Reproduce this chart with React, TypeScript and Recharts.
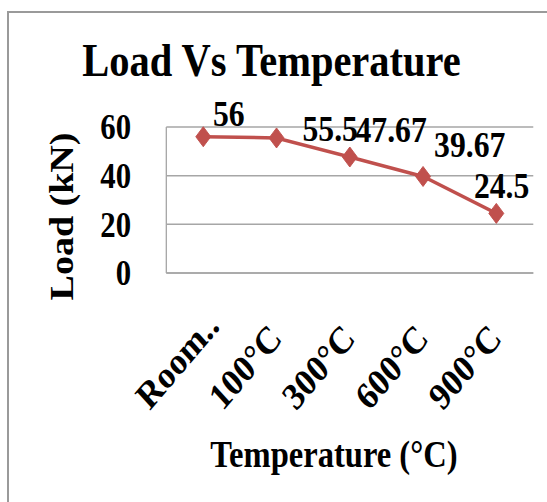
import { LineChart, Line, XAxis, YAxis, CartesianGrid, LabelList } from 'recharts'

const categories = ['Room..', '100°C', '300°C', '600°C', '900°C']
const loads = [56, 55.5, 47.67, 39.67, 24.5]
const yTicks = [0, 20, 40, 60]

const data = categories.map((temp, i) => ({ temp, load: loads[i] }))

// the source picture is squeezed sideways, so the chart is drawn wider and scaled back
const SQUASH = 0.88
const W = 622
const H = 502
const FONT = '"Liberation Serif", "Times New Roman", serif'
const RED = '#C0504D'
const GRID = '#a6a6a6'

// Excel data labels were dragged around by hand: [dx, dy] from each point
const labelNudge = [[29, -11], [61, 3], [47, -15], [53, -19], [6, -15]]

function TempTick({ x, y, payload }: { x: number; y: number; payload: { value: string } }) {
  const v = String(payload.value)
  const extra = v.endsWith('..') ? 17 : 0
  return (
    <g transform={`translate(${x + 8},${y + 67})`}>
      <text textAnchor="end" transform="rotate(-46)" dx={extra}
        fontFamily={FONT} fontWeight="bold" fontSize={38} fill="#000">{v}</text>
    </g>
  )
}

function Diamond({ cx, cy }: { cx?: number; cy?: number }) {
  if (cx == null || cy == null) return null
  return <path d={`M${cx},${cy - 10} L${cx + 8.5},${cy} L${cx},${cy + 10} L${cx - 8.5},${cy} Z`} fill={RED} stroke={RED} />
}

function PointLabel(props: any) {
  const { x, y, value, index } = props
  const [dx, dy] = labelNudge[index] ?? [0, -12]
  return (
    <text x={x + dx} y={y + dy} textAnchor="middle"
      fontFamily={FONT} fontWeight="bold" fontSize={36} fill="#000">{value}</text>
  )
}

export default function App() {
  return (
    <div style={{ position: 'absolute', left: 0, top: 0, width: 547, height: 502, overflow: 'hidden', background: '#fff' }}>
      {/* page frame around the figure */}
      <div style={{ position: 'absolute', left: 7, top: 11, width: 540, height: 2, background: '#9a9a9a' }} />
      <div style={{ position: 'absolute', left: 7, top: 11, width: 2, height: 491, background: '#9a9a9a' }} />

      <div style={{ position: 'absolute', left: 0, top: 0, width: W, height: H, transform: `scaleX(${SQUASH})`, transformOrigin: '0 0' }}>
        <LineChart width={W} height={H} data={data} margin={{ top: 127, right: 16, bottom: 0, left: 0 }}>
          <CartesianGrid vertical={false} stroke={GRID} strokeWidth={1.5} />
          <XAxis
            dataKey="temp"
            height={229}
            padding={{ left: 42, right: 42 }}
            axisLine={{ stroke: GRID, strokeWidth: 1.5 }}
            tickLine={false}
            tickSize={0}
            tickMargin={0}
            interval={0}
            tick={(p: any) => <TempTick {...p} />}
          />
          <YAxis
            width={189}
            domain={[0, 60]}
            ticks={yTicks}
            interval={0}
            axisLine={{ stroke: GRID, strokeWidth: 1.5 }}
            tickLine={false}
            tickSize={0}
            tickMargin={40}
            tick={{ fill: '#000', fontSize: 35, fontWeight: 'bold', fontFamily: FONT }}
          />
          <Line
            type="linear"
            dataKey="load"
            stroke={RED}
            strokeWidth={3.5}
            dot={(p: any) => <Diamond key={p.index} cx={p.cx} cy={p.cy} />}
            activeDot={false}
            isAnimationActive={false}
          >
            <LabelList dataKey="load" content={PointLabel} />
          </Line>
        </LineChart>

        <svg width={W} height={H} style={{ position: 'absolute', left: 0, top: 0, pointerEvents: 'none' }}>
          <text x={308.5} y={76} textAnchor="middle" fontFamily={FONT} fontWeight="bold" fontSize={46} fill="#000">
            Load Vs Temperature
          </text>
          <text transform="translate(83,216.5) rotate(-90)" textAnchor="middle" fontFamily={FONT} fontWeight="bold" fontSize={38} fill="#000">
            Load (kN)
          </text>
          <text x={379.5} y={467} textAnchor="middle" fontFamily={FONT} fontWeight="bold" fontSize={37} fill="#000">
            Temperature (°C)
          </text>
        </svg>
      </div>
    </div>
  )
}
